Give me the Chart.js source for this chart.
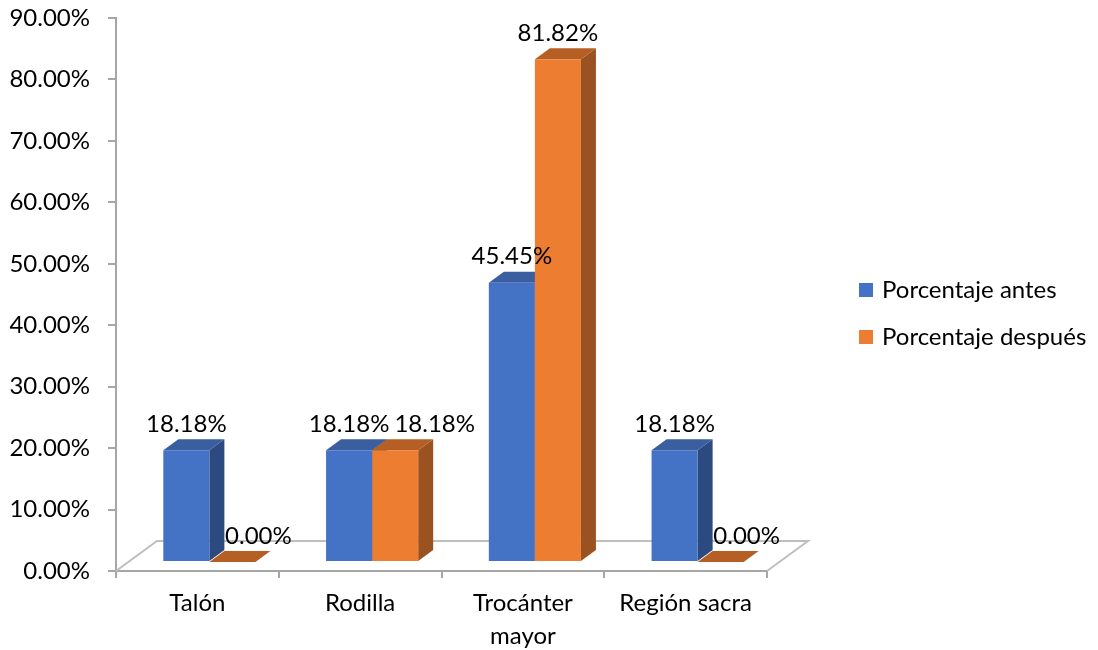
<!DOCTYPE html>
<html>
<head>
<meta charset="utf-8">
<script src="https://cdn.jsdelivr.net/npm/chart.js@4.4.0/dist/chart.umd.min.js"></script>
<style>
  html, body { margin: 0; padding: 0; background: #fff; }
  #wrap { width: 1098px; height: 650px; }
</style>
</head>
<body>
<div id="wrap"><canvas id="myChart" width="1098" height="650"></canvas></div>
<script>
// chart data
const categories = ['Talón', 'Rodilla', ['Trocánter', 'mayor'], 'Región sacra'];
const porcentajeAntes = [18.18, 18.18, 45.45, 18.18];
const porcentajeDespues = [0.00, 18.18, 81.82, 0.00];
const seriesNames = ['Porcentaje antes', 'Porcentaje después'];
const yMax = 90;
const yStep = 10;

// 3d look (pixels)
const FRONT = {dx: 12, dy: -9};   // front face sits a bit into the floor
const DEPTH = {dx: 15, dy: -11};  // bar depth
const FLOOR = {dx: 41, dy: -30};  // floor depth
const FONT = 'Lato';
const FONT_SIZE = 24;

function poly(ctx, pts) {
    ctx.beginPath();
    ctx.moveTo(pts[0][0], pts[0][1]);
    for (let i = 1; i < pts.length; i++) ctx.lineTo(pts[i][0], pts[i][1]);
    ctx.closePath();
    ctx.fill();
}

const bars3d = {
  id: 'bars3d',
  beforeDatasetsDraw(chart) {
    const ctx = chart.ctx, a = chart.chartArea;
    // floor outline
    ctx.save();
    ctx.strokeStyle = '#bfbfbf';
    ctx.lineWidth = 2;
    ctx.beginPath();
    ctx.moveTo(a.left, a.bottom);
    ctx.lineTo(a.left + FLOOR.dx, a.bottom + FLOOR.dy);
    ctx.lineTo(a.right + FLOOR.dx, a.bottom + FLOOR.dy);
    ctx.lineTo(a.right, a.bottom);
    ctx.stroke();
    ctx.restore();

    // side + top faces, then chart draws front faces over them
    ctx.save();
    ctx.translate(FRONT.dx, FRONT.dy);
    chart.data.datasets.forEach((ds, di) => {
      chart.getDatasetMeta(di).data.forEach(bar => {
        const p = bar.getProps(['x', 'y', 'base', 'width'], true);
        const l = p.x - p.width / 2, r = p.x + p.width / 2;
        ctx.fillStyle = ds.sideColor;
        poly(ctx, [[r, p.y], [r + DEPTH.dx, p.y + DEPTH.dy], [r + DEPTH.dx, p.base + DEPTH.dy], [r, p.base]]);
        ctx.fillStyle = ds.topColor;
        poly(ctx, [[l, p.y], [r, p.y], [r + DEPTH.dx, p.y + DEPTH.dy], [l + DEPTH.dx, p.y + DEPTH.dy]]);
      });
    });
  },
  afterDatasetsDraw(chart) {
    const ctx = chart.ctx;
    ctx.restore();

    // value labels
    ctx.save();
    ctx.font = FONT_SIZE + 'px ' + FONT;
    ctx.fillStyle = '#000';
    ctx.textAlign = 'center';
    ctx.textBaseline = 'middle';
    for (let i = 0; i < categories.length; i++) {
      let prev = null;
      chart.data.datasets.forEach((ds, di) => {
        const bar = chart.getDatasetMeta(di).data[i];
        const v = ds.data[i];
        const txt = v.toFixed(2) + '%';
        const w = ctx.measureText(txt).width;
        let cx = bar.x + FRONT.dx + (v === 0 ? 26 : 0);
        const cy = bar.y + FRONT.dy + DEPTH.dy - 15;
        if (prev && Math.abs(prev.cy - cy) < 24 && cx - w / 2 < prev.right + 5) {
          cx = prev.right + 5 + w / 2;
        }
        ctx.fillText(txt, cx, cy);
        prev = {right: cx + w / 2, cy: cy};
      });
    }
    ctx.restore();
  },
  afterDraw(chart) {
    // legend
    const ctx = chart.ctx;
    ctx.save();
    ctx.font = FONT_SIZE + 'px ' + FONT;
    ctx.textBaseline = 'middle';
    ctx.textAlign = 'left';
    chart.data.datasets.forEach((ds, di) => {
      const cy = 290 + di * 47;
      ctx.fillStyle = ds.backgroundColor;
      ctx.fillRect(859, cy - 7, 14, 14);
      ctx.fillStyle = '#000';
      ctx.fillText(ds.label, 882, cy);
    });
    ctx.restore();
  }
};

const data = {
  labels: categories,
  datasets: [
    {
      label: seriesNames[0],
      data: porcentajeAntes,
      backgroundColor: '#4472c4',
      topColor: '#3a5e9f',
      sideColor: '#2c4a80',
    },
    {
      label: seriesNames[1],
      data: porcentajeDespues,
      backgroundColor: '#ed7d31',
      topColor: '#b65f25',
      sideColor: '#9a5221',
    },
  ],
};

const tickFont = {family: FONT, size: FONT_SIZE, lineHeight: 1.375};

const config = {
  type: 'bar',
  data: data,
  plugins: [bars3d],
  options: {
    responsive: false,
    animation: false,
    layout: {padding: {top: 0, right: 331, left: 0, bottom: 0}},
    datasets: {
      bar: {categoryPercentage: 0.566, barPercentage: 1.0, borderWidth: 0, clip: false},
    },
    plugins: {
      legend: {display: false},
      tooltip: {enabled: false},
    },
    scales: {
      x: {
        grid: {drawOnChartArea: false, tickLength: 7, color: '#a6a6a6', lineWidth: 2, offset: true},
        border: {color: '#a6a6a6', width: 2},
        ticks: {font: tickFont, color: '#000', padding: 9, maxRotation: 0, autoSkip: false},
        afterFit(s) { s.height = 79; },
      },
      y: {
        min: 0,
        max: yMax,
        grid: {drawOnChartArea: false, tickLength: 8, color: '#a6a6a6', lineWidth: 2},
        border: {color: '#a6a6a6', width: 2},
        ticks: {
          stepSize: yStep,
          font: tickFont,
          color: '#000',
          padding: 18,
          callback: v => v.toFixed(2) + '%',
        },
        afterFit(s) {
          s.width = 116;
          s.paddingTop = 18;
          s.paddingBottom = 0;
        },
      },
    },
  },
};

const myChart = new Chart(document.getElementById('myChart'), config);
</script>
</body>
</html>
